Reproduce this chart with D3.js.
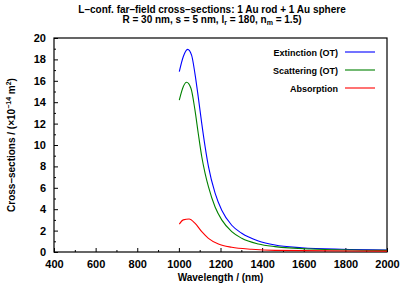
<!DOCTYPE html>
<html>
<head>
<meta charset="utf-8">
<script src="https://cdn.jsdelivr.net/npm/d3@7"></script>
<style>
  body { margin: 0; background: #fff; }
  svg text { font-family: "Liberation Sans", Arial, sans-serif; font-weight: bold; fill: #000; }
</style>
</head>
<body>
<div id="chart"></div>
<script>
// wavelengths (nm) and values (x1e-14 m^2)
var ext_wl  = [1002, 1021, 1042, 1061, 1077, 1093, 1110, 1126, 1142, 1174, 1206, 1254, 1302, 1382, 1462, 1590, 1782, 2000]
var ext_val = [16.85, 18.25, 18.94, 18.4, 16.7, 14.5, 12.0, 9.85, 8.0, 5.5, 3.9, 2.5, 1.75, 1.03, 0.65, 0.4, 0.25, 0.19]

var sca_wl  = [1002, 1021, 1037, 1058, 1077, 1093, 1110, 1126, 1142, 1174, 1206, 1254, 1302, 1382, 1462, 1634, 2000]
var sca_val = [14.2, 15.45, 15.86, 15.3, 13.3, 11.1, 8.9, 7.35, 6.1, 4.2, 3.0, 1.9, 1.28, 0.75, 0.5, 0.28, 0.15]

var abs_wl  = [1002, 1021, 1049, 1077, 1110, 1142, 1190, 1254, 1350, 1462, 2000]
var abs_val = [2.6, 3.0, 3.08, 2.7, 1.9, 1.28, 0.75, 0.44, 0.25, 0.15, 0.08]

var series_names  = ["Extinction (OT)", "Scattering (OT)", "Absorption"]
var series_colors = ["#0000ff", "#008000", "#ff0000"]

var x_ticks = [400, 600, 800, 1000, 1200, 1400, 1600, 1800, 2000]
var y_ticks = [0, 2, 4, 6, 8, 10, 12, 14, 16, 18, 20]

var W = 401, H = 286
var margin = {left: 54, right: 14, top: 38, bottom: 34}

var svg = d3.select("#chart").append("svg")
    .attr("width", W)
    .attr("height", H)

var x = d3.scaleLinear().domain([400, 2000]).range([margin.left, W - margin.right])
var y = d3.scaleLinear().domain([0, 20]).range([H - margin.bottom, margin.top])

// title
var title = svg.append("text")
    .attr("text-anchor", "middle")
    .attr("font-size", "10px")
title.append("tspan").attr("x", 212).attr("y", 13)
    .text("L\u2013conf. far\u2013field cross\u2013sections: 1 Au rod + 1 Au sphere")
var t2 = title.append("tspan").attr("x", 212).attr("y", 23)
t2.append("tspan").text("R = 30 nm, s = 5 nm, l")
t2.append("tspan").attr("font-size", "7px").attr("dy", 2).text("r")
t2.append("tspan").attr("dy", -2).text(" = 180, n")
t2.append("tspan").attr("font-size", "7px").attr("dy", 2).text("m")
t2.append("tspan").attr("dy", -2).text(" = 1.5)")

// axes with inward ticks
var xAxis = svg.append("g")
    .attr("transform", "translate(0," + y(0) + ")")
    .call(d3.axisBottom(x).tickValues(x_ticks).tickSize(-4).tickPadding(8).tickFormat(d3.format("d")))
var xMinor = svg.append("g")
    .attr("transform", "translate(0," + y(0) + ")")
    .call(d3.axisBottom(x).tickValues(d3.range(500, 2000, 200)).tickSize(-2).tickFormat(""))

var yAxis = svg.append("g")
    .attr("transform", "translate(" + x(400) + ",0)")
    .call(d3.axisLeft(y).tickValues(y_ticks).tickSize(-4).tickPadding(8))
var yMinor = svg.append("g")
    .attr("transform", "translate(" + x(400) + ",0)")
    .call(d3.axisLeft(y).tickValues(d3.range(1, 20, 2)).tickSize(-2).tickFormat(""))

svg.selectAll(".domain").remove()
svg.selectAll(".tick line").attr("stroke", "#000")
svg.selectAll(".tick text").attr("font-size", "11px")

// frame
svg.append("rect")
    .attr("x", x(400)).attr("y", y(20))
    .attr("width", x(2000) - x(400)).attr("height", y(0) - y(20))
    .attr("fill", "none").attr("stroke", "#000").attr("stroke-width", 1.2)

// axis labels
svg.append("text")
    .attr("x", (x(400) + x(2000)) / 2).attr("y", 281)
    .attr("text-anchor", "middle").attr("font-size", "10px")
    .text("Wavelength / (nm)")

var ylab = svg.append("text")
    .attr("transform", "translate(15," + ((y(0) + y(20)) / 2) + ") rotate(-90)")
    .attr("text-anchor", "middle").attr("font-size", "10px")
ylab.append("tspan").text("Cross\u2013sections / (\u00d710")
ylab.append("tspan").attr("font-size", "7px").attr("dy", -4).text("\u221214")
ylab.append("tspan").attr("dy", 4).text(" m")
ylab.append("tspan").attr("font-size", "7px").attr("dy", -4).text("2")
ylab.append("tspan").attr("dy", 4).text(")")

// curves
var line = d3.line()
    .x(function(d) { return x(d[0]) })
    .y(function(d) { return y(d[1]) })
    .curve(d3.curveMonotoneX)

var all_series = [
    d3.zip(ext_wl, ext_val),
    d3.zip(sca_wl, sca_val),
    d3.zip(abs_wl, abs_val)
]

svg.append("g").selectAll("path")
    .data(all_series)
    .enter().append("path")
    .attr("d", line)
    .attr("fill", "none")
    .attr("stroke", function(d, i) { return series_colors[i] })
    .attr("stroke-width", 1.1)

// legend
var legend = svg.append("g").selectAll("g")
    .data(series_names)
    .enter().append("g")
    .attr("transform", function(d, i) { return "translate(0," + (52 + i * 18) + ")" })

legend.append("text")
    .attr("x", 338).attr("y", 3.5)
    .attr("text-anchor", "end").attr("font-size", "9px")
    .text(function(d) { return d })

legend.append("line")
    .attr("x1", 345).attr("x2", 375)
    .attr("stroke", function(d, i) { return series_colors[i] })
    .attr("stroke-width", 1.1)
</script>
</body>
</html>
